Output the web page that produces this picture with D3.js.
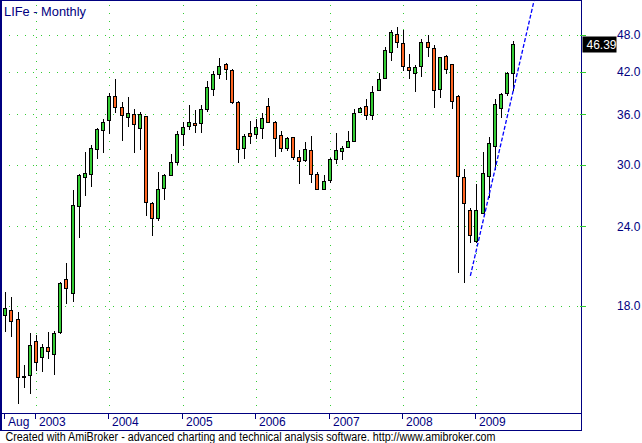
<!DOCTYPE html>
<html><head><meta charset="utf-8">
<script src="https://cdn.jsdelivr.net/npm/d3@7"></script>
<style>
html,body{margin:0;padding:0;background:#fff;}
svg{display:block;font-family:"Liberation Sans",Arial,sans-serif;}
</style></head>
<body>
<svg id="c" width="642" height="443"></svg>
<script>
// ---- data (monthly, Aug 2002 .. Jul 2009) ----
const firstMonth = new Date(2002, 7, 1);
const endMonth = new Date(2009, 7, 1);
const open = [17.42,17.74,17.16,13.92,13.99,15.84,14.95,15.50,15.11,16.37,
  19.78,18.85,25.81,28.66,28.98,31.72,33.97,35.20,38.42,36.92,
  35.58,36.00,34.22,35.74,26.09,24.72,27.55,28.87,30.26,33.49,
  34.47,34.84,34.76,36.65,39.40,41.60,43.13,42.20,37.59,31.83,
  33.61,33.49,34.22,37.05,34.97,33.36,31.83,33.12,30.81,30.48,
  31.60,28.98,27.45,28.36,30.59,31.49,31.95,32.65,36.26,37.05,
  35.87,39.26,41.00,45.04,48.07,46.53,42.66,41.75,42.82,46.70,
  45.70,39.40,44.39,43.13,38.42,28.66,25.40,22.71,25.17,28.77,
  32.06,36.79,38.83,41.75];
const high = [18.91,18.62,17.60,14.54,16.31,16.21,15.67,16.37,16.44,19.63,
  21.03,27.38,29.01,31.41,32.21,34.22,35.39,38.83,40.90,37.63,
  38.32,36.73,36.30,35.78,26.17,29.19,28.98,31.19,33.89,34.95,
  37.23,36.56,37.19,40.60,42.10,44.12,43.25,42.36,37.70,33.49,
  35.14,35.35,36.13,38.14,35.07,33.85,33.12,33.18,31.60,32.57,
  33.24,29.22,28.87,30.68,33.61,32.06,33.85,36.65,36.89,38.00,
  39.83,41.75,45.86,48.77,49.30,48.77,44.72,42.97,47.21,47.90,
  46.20,44.31,44.52,43.21,38.53,29.50,25.63,27.95,31.38,33.12,
  38.00,38.81,41.90,46.87];
const low = [16.40,16.11,12.62,13.37,13.08,14.24,14.19,14.86,14.04,16.27,
  18.15,18.28,23.04,26.82,27.71,30.66,31.33,33.46,36.17,32.72,
  34.38,31.33,31.69,24.92,23.14,24.43,26.45,28.80,30.00,32.13,
  33.95,33.61,33.61,36.23,38.49,40.85,40.70,37.32,30.15,30.59,
  32.30,32.89,32.89,34.82,30.88,31.38,31.52,30.48,27.95,30.26,
  28.05,27.33,27.40,28.05,30.04,30.48,31.81,32.53,36.17,35.22,
  35.22,39.12,40.85,43.60,45.70,42.05,40.85,38.98,41.15,44.23,
  36.79,38.14,41.60,36.65,20.30,19.58,22.63,22.63,25.12,26.57,
  29.43,35.48,38.42,39.12];
const close = [17.81,17.01,13.89,13.94,15.62,14.68,15.50,15.28,16.31,19.49,
  19.19,25.90,28.90,29.01,31.75,34.10,34.97,38.42,36.89,35.84,
  36.13,34.72,36.00,26.19,24.72,27.45,28.87,30.26,33.49,34.34,
  34.97,34.59,36.65,39.69,41.61,42.86,42.36,37.59,31.72,33.24,
  33.24,34.34,35.48,34.97,33.00,31.83,33.00,30.81,30.37,31.72,
  28.98,27.45,28.25,30.59,31.60,31.83,32.65,36.13,36.79,35.87,
  38.98,40.85,45.37,48.42,46.70,42.82,42.20,42.66,46.70,45.86,
  39.26,44.23,42.36,37.73,28.77,26.09,23.21,25.40,29.08,32.41,
  37.32,38.70,41.75,46.39];
const yTicks = [18, 24, 30, 36, 42, 48];
const xTickMonths = [new Date(2002,7,1), new Date(2003,0,1), new Date(2004,0,1), new Date(2005,0,1),
  new Date(2006,0,1), new Date(2007,0,1), new Date(2008,0,1), new Date(2009,0,1)];
const xTickLabels = ["Aug","2003","2004","2005","2006","2007","2008","2009"];
const gridMonths = xTickMonths.slice(1);
// trend line anchors: (month index, price)
const trendIdx = [76, 83];
const trendPrice = [20.07, 39.19];
const titleText = "LIFe - Monthly";
const footerText = "Created with AmiBroker - advanced charting and technical analysis software. http://www.amibroker.com";

// ---- layout ----
const PL = 1, PR = 581, PT = 1, PB = 413, AB = 430;
const navy = "#000080", gridCol = "#33cc33", upCol = "#33cc33", downCol = "#ff6622";

const months = d3.timeMonth.range(firstMonth, endMonth);
const bars = months.map((m, i) => ({m, i, o: open[i], h: high[i], l: low[i], c: close[i]}));

const x = d3.scalePoint().domain(months.map(m => +m)).range([5.3, 513.2]);
const step = x.step();
const y = d3.scaleLog().domain([12.269, 54.41]).range([412, 0]);

const svg = d3.select("#c");
svg.append("rect").attr("width", 642).attr("height", 443).attr("fill", "#fff");

svg.append("defs").append("clipPath").attr("id", "plotclip")
  .append("rect").attr("x", PL).attr("y", PT).attr("width", PR - PL).attr("height", PB - PT);

// grid
const grid = svg.append("g").attr("shape-rendering", "crispEdges");
grid.selectAll("line.h").data(yTicks).join("line")
  .attr("x1", PL).attr("x2", PR)
  .attr("y1", d => Math.round(y(d)) + 0.5).attr("y2", d => Math.round(y(d)) + 0.5)
  .attr("stroke", gridCol).attr("stroke-dasharray", "1,7");
grid.selectAll("line.v").data(gridMonths).join("line")
  .attr("x1", d => Math.round(x(+d)) + 0.5).attr("x2", d => Math.round(x(+d)) + 0.5)
  .attr("y1", PT + 4).attr("y2", PB)
  .attr("stroke", gridCol).attr("stroke-dasharray", "1,7");

// candles
const plot = svg.append("g").attr("clip-path", "url(#plotclip)");
const cg = plot.append("g").attr("shape-rendering", "crispEdges");
const cx = d => Math.round(x(+d.m));
cg.selectAll("line.w").data(bars).join("line")
  .attr("x1", d => cx(d) + 0.5).attr("x2", d => cx(d) + 0.5)
  .attr("y1", d => y(d.h)).attr("y2", d => y(d.l))
  .attr("stroke", "#000").attr("stroke-width", 1);
cg.selectAll("rect.b").data(bars).join("rect")
  .attr("x", d => cx(d) - 1.5)
  .attr("width", 3)
  .attr("y", d => Math.min(y(d.o), y(d.c)))
  .attr("height", d => Math.max(0.6, Math.abs(y(d.o) - y(d.c))))
  .attr("fill", d => d.c > d.o ? upCol : downCol)
  .attr("stroke", "#000").attr("stroke-width", 1);

// trend line (log-linear extension beyond anchors)
const tSlope = Math.log(trendPrice[1] / trendPrice[0]) / (trendIdx[1] - trendIdx[0]);
const tEndIdx = 90;
const tEndPrice = trendPrice[0] * Math.exp(tSlope * (tEndIdx - trendIdx[0]));
const xi = i => x.range()[0] + i * step;
plot.append("line")
  .attr("x1", xi(trendIdx[0])).attr("y1", y(trendPrice[0]))
  .attr("x2", xi(tEndIdx)).attr("y2", y(tEndPrice))
  .attr("stroke", "#0000ff").attr("stroke-width", 1.3).attr("stroke-dasharray", "4,2");

// frame
const fr = svg.append("g").attr("shape-rendering", "crispEdges").attr("fill", "none").attr("stroke", navy);
fr.append("rect").attr("x", 0.5).attr("y", 0.5).attr("width", PR - 0.5).attr("height", AB - 0.5);
fr.append("line").attr("x1", 0).attr("x2", PR).attr("y1", PB + 0.5).attr("y2", PB + 0.5);
fr.append("line").attr("x1", 1.5).attr("x2", 1.5).attr("y1", 0).attr("y2", AB);

// right axis ticks & labels
svg.append("g").attr("shape-rendering", "crispEdges").selectAll("line").data(yTicks).join("line")
  .attr("x1", PR - 1).attr("x2", PR + 5)
  .attr("y1", d => Math.round(y(d)) + 0.5).attr("y2", d => Math.round(y(d)) + 0.5)
  .attr("stroke", gridCol);
svg.append("g").selectAll("text").data(yTicks).join("text")
  .attr("x", 617).attr("y", d => y(d) + 4.4)
  .attr("font-size", 12).attr("fill", navy)
  .text(d => d.toFixed(1));

// last close label
const lastC = close[close.length - 1];
svg.append("rect").attr("x", 582.5).attr("y", Math.round(y(lastC)) - 7.5).attr("width", 34).attr("height", 16)
  .attr("fill", "#000");
svg.append("text").attr("x", 586.5).attr("y", y(lastC) + 4.6)
  .attr("font-size", 12).attr("fill", "#fff").text(lastC.toFixed(2));

// bottom axis
const xa = svg.append("g");
xa.selectAll("line").data(xTickMonths).join("line")
  .attr("shape-rendering", "crispEdges")
  .attr("x1", d => Math.round(x(+d)) - 0.5).attr("x2", d => Math.round(x(+d)) - 0.5)
  .attr("y1", PB).attr("y2", PB + 6).attr("stroke", navy);
xa.selectAll("text").data(xTickMonths).join("text")
  .attr("x", d => Math.round(x(+d)) + 3).attr("y", 425.5)
  .attr("font-size", 12).attr("fill", navy)
  .text((d, i) => xTickLabels[i]);

// title & footer
svg.append("text").attr("x", 4).attr("y", 15.5).attr("font-size", 13).attr("fill", navy)
  .attr("textLength", 82).attr("lengthAdjust", "spacingAndGlyphs").text(titleText);
svg.append("text").attr("x", 5.5).attr("y", 441).attr("font-size", 12).attr("fill", "#000")
  .attr("textLength", 490).attr("lengthAdjust", "spacingAndGlyphs").text(footerText);
</script>
</body></html>
